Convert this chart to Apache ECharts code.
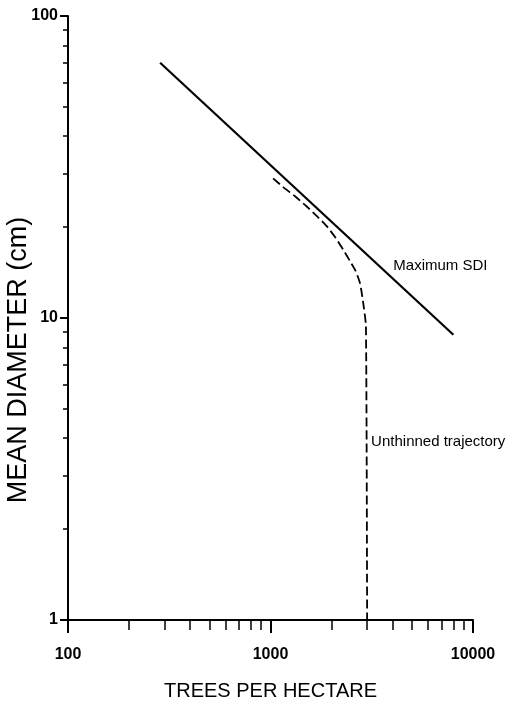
<!DOCTYPE html>
<html>
<head>
<meta charset="utf-8">
<script src="https://cdn.jsdelivr.net/npm/echarts@6/dist/echarts.min.js"></script>
<style>
  html, body { margin: 0; padding: 0; background: #fff; }
  #chart { width: 514px; height: 702px; }
</style>
</head>
<body>
<div id="chart"></div>
<script>
// Tick positions (log decades and their 2..9 subdivisions)
const xMajorTicks = [100, 1000, 10000];
const xMinorTicks = [200, 300, 400, 500, 600, 700, 800, 900,
                     2000, 3000, 4000, 5000, 6000, 7000, 8000, 9000];
const yMajorTicks = [1, 10, 100];
const yMinorTicks = [2, 3, 4, 5, 6, 7, 8, 9,
                     20, 30, 40, 50, 60, 70, 80, 90];

// Maximum stand density index line (trees/ha, mean diameter cm)
const sdiTrees = [285, 8000];
const sdiDiameter = [70, 8.8];

// Unthinned stand trajectory
const unthinnedTrees = [1030, 1150, 1330, 1510, 1700, 1900, 2100, 2290, 2460, 2620, 2770, 2870, 2960, 3000];
const unthinnedDiameter = [29.0, 27.2, 25.2, 23.4, 21.7, 20.1, 18.4, 16.8, 15.5, 14.4, 13.0, 11.2, 9.4, 1];

// Annotation anchors [trees, diameter]
const sdiLabelAt = [4040, 14.9];
const unthinnedLabelAt = [3000, 3.89];

const pairs = (xs, ys) => xs.map((x, i) => [x, ys[i]]);

const ink = '#000';
const font = 'Liberation Sans, Arial, Helvetica, sans-serif';

function baseAxis(min, max) {
  return { type: 'log', logBase: 10, min: min, max: max, gridIndex: 0, splitLine: { show: false } };
}

const chart = echarts.init(document.getElementById('chart'), null, { renderer: 'canvas' });

chart.setOption({
  animation: false,
  backgroundColor: '#fff',
  grid: { left: 68, top: 16, width: 405, height: 604, containLabel: false, outerBoundsMode: 'none' },
  xAxis: [
    Object.assign(baseAxis(100, 10000), {
      position: 'bottom',
      axisLine: { show: true, lineStyle: { color: ink, width: 2 } },
      axisTick: { show: true, customValues: xMajorTicks, length: 13, lineStyle: { color: ink, width: 2 } },
      axisLabel: {
        customValues: xMajorTicks, formatter: v => String(v), margin: 27,
        color: ink, fontSize: 16, fontWeight: 'bold', fontFamily: font
      },
      name: 'TREES PER HECTARE', nameLocation: 'middle', nameGap: 61, nameMoveOverlap: false,
      nameTextStyle: { color: ink, fontSize: 20, fontFamily: font }
    }),
    Object.assign(baseAxis(100, 10000), {
      position: 'bottom',
      axisLine: { show: false },
      axisTick: { show: true, customValues: xMinorTicks, length: 10, lineStyle: { color: ink, width: 1.5 } },
      axisLabel: { show: false }
    })
  ],
  yAxis: [
    Object.assign(baseAxis(1, 100), {
      position: 'left',
      axisLine: { show: true, lineStyle: { color: ink, width: 2 } },
      axisTick: { show: true, customValues: yMajorTicks, length: 8, lineStyle: { color: ink, width: 2 } },
      axisLabel: {
        customValues: yMajorTicks, formatter: v => String(v), margin: 10,
        color: ink, fontSize: 16, fontWeight: 'bold', fontFamily: font
      },
      name: 'MEAN DIAMETER (cm)', nameLocation: 'middle', nameGap: 36, nameRotate: 90, nameMoveOverlap: false,
      nameTextStyle: { color: ink, fontSize: 27, fontFamily: font, padding: [0, 84, 0, 0] }
    }),
    Object.assign(baseAxis(1, 100), {
      position: 'left',
      axisLine: { show: false },
      axisTick: { show: true, customValues: yMinorTicks, length: 5, lineStyle: { color: ink, width: 1.5 } },
      axisLabel: { show: false }
    })
  ],
  series: [
    {
      name: 'Maximum SDI',
      type: 'line',
      xAxisIndex: 0, yAxisIndex: 0,
      data: pairs(sdiTrees, sdiDiameter),
      showSymbol: false, symbol: 'none',
      lineStyle: { color: ink, width: 2.2 },
      markPoint: {
        symbol: 'circle', symbolSize: 0,
        data: [{ coord: sdiLabelAt }],
        label: {
          show: true, position: 'right', distance: 0, formatter: 'Maximum SDI',
          color: ink, fontSize: 15, fontFamily: font
        }
      }
    },
    {
      name: 'Unthinned trajectory',
      type: 'line',
      xAxisIndex: 0, yAxisIndex: 0,
      data: pairs(unthinnedTrees, unthinnedDiameter),
      showSymbol: false, symbol: 'none',
      smooth: 0.2,
      lineStyle: { color: ink, width: 1.8, type: [9, 4] },
      markPoint: {
        symbol: 'circle', symbolSize: 0,
        data: [{ coord: unthinnedLabelAt }],
        label: {
          show: true, position: 'right', distance: 4, formatter: 'Unthinned trajectory',
          color: ink, fontSize: 15, fontFamily: font
        }
      }
    }
  ]
});
</script>
</body>
</html>
